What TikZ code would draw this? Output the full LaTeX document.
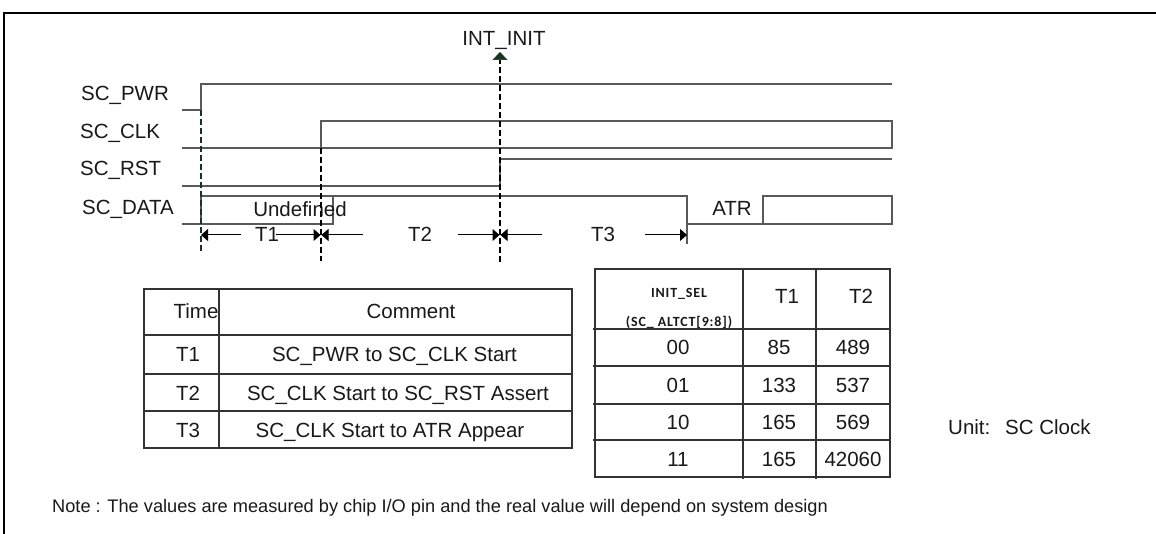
\documentclass[tikz,border=0pt]{standalone}
\usepackage{fontspec}
\setmainfont{Liberation Sans}
\newfontfamily\calfont[LetterSpace=6]{Carlito}
\usetikzlibrary{arrows.meta}
\definecolor{dkgreen}{RGB}{22,52,30}
\begin{document}
\begin{tikzpicture}[x=1pt,y=-1pt,
  font=\fontsize{20.5}{24}\selectfont,
  every node/.style={inner sep=0pt, text=black!90},
  sig/.style={line width=1.2pt, draw=black!65},
  grid/.style={line width=1.2pt, draw=black!80},
  guide/.style={dash pattern=on 6pt off 3pt, line width=2pt},
  dim/.style={line width=1pt, -{Triangle[length=7pt,width=12pt]}},
  lbl/.style={anchor=base west},
  ctr/.style={anchor=base},
  hdr/.style={anchor=base, font=\calfont\bfseries\fontsize{14}{16}\selectfont}
]
\useasboundingbox (0,0) rectangle (1156,534);
\fill[white] (0,0) rectangle (1156,534);
% frame
\draw[line width=2pt] (4,534) -- (4,13) -- (1156,13);

% signal labels
\node[lbl] (lpwr) at (81,101) {SC\_PWR};
\node[lbl] (lclk) at (80,139) {SC\_CLK};
\node[lbl] (lrst) at (80,176) {SC\_RST};
\node[lbl] (ldata) at (82,215) {SC\_DATA};

% waveforms
\draw[sig] (182,110) -- (201,110) -- (201,84) -- (892,84);
\draw[sig] (182,148) -- (892,148) -- (892,121) -- (321,121) -- (321,148);
\draw[sig] (182,186) -- (500,186) -- (500,159) -- (892,159);
\draw[sig] (182,224) -- (333,224) -- (333,196);
\draw[sig] (201,224) -- (201,196) -- (687,196) -- (687,224) -- (892,224) -- (892,196) -- (763,196) -- (763,224);
\draw[sig] (687,224) -- (687,244);
\node[ctr] (undef) at (300,217) {Undefined};
\node[ctr] (atr) at (732,216) {ATR};

% guides
\coordinate (g1t) at (201,110); \coordinate (g1b) at (201,252);
\coordinate (g2t) at (321,148); \coordinate (g2b) at (321,261);
\coordinate (g3t) at (500,60);  \coordinate (g3b) at (500,262);
\draw[guide, draw=dkgreen] (g1t) -- (g1b);
\draw[guide] (g2t) -- (g2b);
\draw[guide] (g3b) -- (g3t);
\node[ctr] (intinit) at (504,46) {INT\_INIT};
\coordinate (tipint) at (500,52);
\draw[dkgreen, line width=0.5pt, -{Triangle[length=8pt,width=15pt]}] (g3t) -- (tipint);

% dimension arrows
\node[ctr] (t1) at (267,242) {T1};
\node[ctr] (t2) at (420,242) {T2};
\node[ctr] (t3) at (603,242) {T3};
\coordinate (d1a) at (241,235); \coordinate (d1at) at (201,235);
\coordinate (d1b) at (276,235); \coordinate (d1bt) at (320.5,235);
\coordinate (d2a) at (363,235); \coordinate (d2at) at (321.5,235);
\coordinate (d2b) at (458,235); \coordinate (d2bt) at (499.5,235);
\coordinate (d3a) at (542,235); \coordinate (d3at) at (500.5,235);
\coordinate (d3b) at (645,235); \coordinate (d3bt) at (687,235);
\draw[dim] (d1a) -- (d1at);
\draw[dim] (d1b) -- (d1bt);
\draw[dim] (d2a) -- (d2at);
\draw[dim] (d2b) -- (d2bt);
\draw[dim] (d3a) -- (d3at);
\draw[dim] (d3b) -- (d3bt);

% left table
\draw[grid] (144,289) rectangle (572,448);
\draw[grid] (219,289) -- (219,448);
\draw[grid] (144,335) -- (572,335);
\draw[grid] (144,374) -- (572,374);
\draw[grid] (144,411) -- (572,411);
\node[ctr] (hTime) at (196,319) {Time};
\node[ctr] (hComment) at (411,319) {Comment};
\node[ctr] (rT1) at (188,362) {T1};
\node[ctr] (rT2) at (188,400) {T2};
\node[ctr] (rT3) at (188,437) {T3};
\node[ctr] (c1) at (394.5,362) {SC\_PWR to SC\_CLK Start};
\node[ctr] (c2) at (398,400) {SC\_CLK Start to SC\_RST Assert};
\node[ctr] (c3) at (390,437) {SC\_CLK Start to ATR Appear};

% right table
\draw[grid] (595,269) rectangle (890,477);
\draw[grid] (743,269) -- (743,479);
\draw[grid] (816,269) -- (816,479);
\draw[grid] (593,329) -- (890,329);
\draw[grid] (593,366) -- (890,366);
\draw[grid] (593,404) -- (890,404);
\draw[grid] (593,440) -- (890,440);
\node[hdr] (hsel) at (679,297.5) {INIT\_SEL};
\node[hdr] (hreg) at (679,326.5) {(SC\_ ALTCT[9:8])};
\node[ctr] (hT1) at (787,304) {T1};
\node[ctr] (hT2) at (861,304) {T2};
\node[ctr] (s00) at (678,354.5) {00};
\node[ctr] (s01) at (678,392) {01};
\node[ctr] (s10) at (678,429) {10};
\node[ctr] (s11) at (678,466) {11};
\node[ctr] (a00) at (779,354.5) {85};
\node[ctr] (a01) at (779,392) {133};
\node[ctr] (a10) at (779,429) {165};
\node[ctr] (a11) at (779,466) {165};
\node[ctr] (b00) at (853,354.5) {489};
\node[ctr] (b01) at (853,392) {537};
\node[ctr] (b10) at (853,429) {569};
\node[ctr] (b11) at (853,466) {42060};

% unit
\node[lbl] (unit) at (948,434) {Unit:};
\node[lbl] (unitv) at (1005,434) {SC Clock};

% note
\node[lbl, font=\fontsize{18.2}{22}\selectfont] (note) at (52,512) {Note : The values are measured by chip I/O pin and the real value will depend on system design};
\end{tikzpicture}
\end{document}
